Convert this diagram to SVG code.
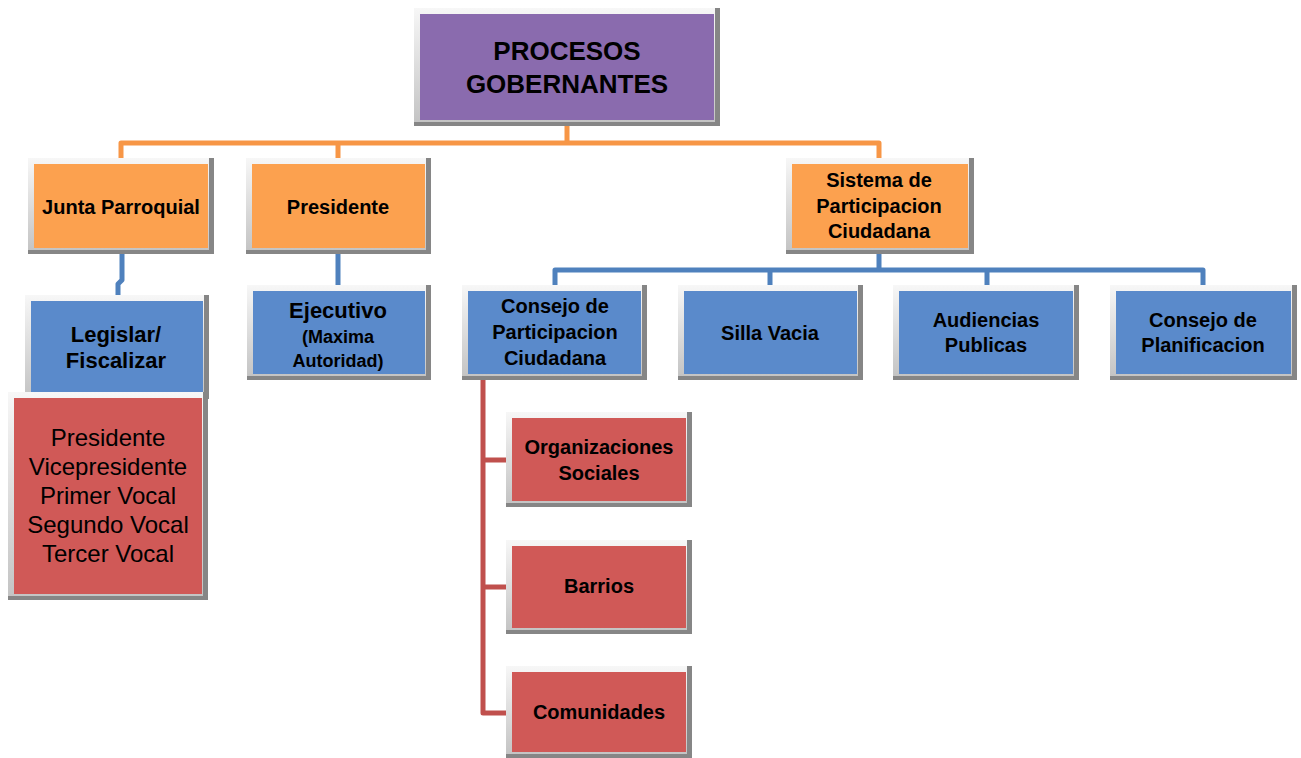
<svg xmlns="http://www.w3.org/2000/svg" width="1301" height="758" viewBox="0 0 1301 758">
<defs>
<linearGradient id="lg" x1="0" y1="0" x2="0" y2="1">
<stop offset="0" stop-color="#F7F7F7"/>
<stop offset="1" stop-color="#C4C4C4"/>
</linearGradient>
<style>
.f0{fill:#868686}
.f1{fill:url(#lg)}
.pu{fill:#8A6BAE}
.or{fill:#FCA14F}
.bl{fill:#5A8ACB}
.rd{fill:#D05957}
.t{font-family:"Liberation Sans",Arial,sans-serif;font-weight:bold;font-size:20px;fill:#000;text-anchor:middle}
.big{font-size:26px}
.m{font-size:22px}
.s{font-size:18px}
.r{font-weight:normal;font-size:24px}
.c{fill:none;stroke-width:5;stroke-linejoin:round}
.co{stroke:#F79646}
.cb{stroke:#4F81BD}
.cr{stroke:#C0504D}
</style>
</defs>
<rect width="1301" height="758" fill="#FFFFFF"/>
<g id="connectors">
<path class="c co" d="M567 126 V143 M121 158 V143 H879 V158 M338 143 V158"/>
<path class="c cb" d="M122 254 V280 L118 284 V295 M338 254 V285 M879 254 V270 M555 285 V270 H1203 V285 M770 270 V285 M987 270 V285"/>
<path class="c cr" d="M483 380 V713 H506 M483 460 H506 M483 587 H506"/>
</g>
<g id="procesos">
<rect class="f0" x="414" y="8" width="306" height="118"/><rect class="f1" x="414" y="8" width="301" height="114"/><rect class="pu" x="420" y="14" width="294" height="106"/>
<text class="t big" x="567" y="60">PROCESOS</text><text class="t big" x="567" y="93">GOBERNANTES</text>
</g>
<g id="junta">
<rect class="f0" x="28" y="158" width="186" height="96"/><rect class="f1" x="28" y="158" width="181" height="92"/><rect class="or" x="34" y="164" width="174" height="84"/>
<text class="t" x="121" y="214">Junta Parroquial</text>
</g>
<g id="presidente">
<rect class="f0" x="246" y="158" width="185" height="96"/><rect class="f1" x="246" y="158" width="180" height="92"/><rect class="or" x="252" y="164" width="173" height="84"/>
<text class="t" x="338" y="214">Presidente</text>
</g>
<g id="sistema">
<rect class="f0" x="786" y="158" width="188" height="96"/><rect class="f1" x="786" y="158" width="183" height="92"/><rect class="or" x="792" y="164" width="176" height="84"/>
<text class="t" x="879" y="187">Sistema de</text><text class="t" x="879" y="213">Participacion</text><text class="t" x="879" y="238">Ciudadana</text>
</g>
<g id="legislar">
<rect class="f0" x="25" y="295" width="184" height="104"/><rect class="f1" x="25" y="295" width="179" height="100"/><rect class="bl" x="31" y="301" width="172" height="92"/>
<text class="t m" x="116" y="342">Legislar/</text><text class="t m" x="116" y="368">Fiscalizar</text>
</g>
<g id="ejecutivo">
<rect class="f0" x="247" y="285" width="184" height="95"/><rect class="f1" x="247" y="285" width="179" height="91"/><rect class="bl" x="253" y="291" width="172" height="83"/>
<text class="t m" x="338" y="318">Ejecutivo</text><text class="t s" x="338" y="343">(Maxima</text><text class="t s" x="338" y="367">Autoridad)</text>
</g>
<g id="consejo">
<rect class="f0" x="462" y="285" width="185" height="95"/><rect class="f1" x="462" y="285" width="180" height="91"/><rect class="bl" x="468" y="291" width="173" height="83"/>
<text class="t" x="555" y="313">Consejo de</text><text class="t" x="555" y="339">Participacion</text><text class="t" x="555" y="365">Ciudadana</text>
</g>
<g id="silla">
<rect class="f0" x="678" y="285" width="185" height="95"/><rect class="f1" x="678" y="285" width="180" height="91"/><rect class="bl" x="684" y="291" width="173" height="83"/>
<text class="t" x="770" y="340">Silla Vacia</text>
</g>
<g id="audiencias">
<rect class="f0" x="893" y="285" width="186" height="95"/><rect class="f1" x="893" y="285" width="181" height="91"/><rect class="bl" x="899" y="291" width="174" height="83"/>
<text class="t" x="986" y="327">Audiencias</text><text class="t" x="986" y="352">Publicas</text>
</g>
<g id="planificacion">
<rect class="f0" x="1110" y="285" width="187" height="95"/><rect class="f1" x="1110" y="285" width="182" height="91"/><rect class="bl" x="1116" y="291" width="175" height="83"/>
<text class="t" x="1203" y="327">Consejo de</text><text class="t" x="1203" y="352">Planificacion</text>
</g>
<g id="miembros">
<rect class="f0" x="8" y="392" width="200" height="208"/><rect class="f1" x="8" y="392" width="195" height="204"/><rect class="rd" x="14" y="398" width="188" height="196"/>
<text class="t r" x="108" y="446">Presidente</text><text class="t r" x="108" y="475">Vicepresidente</text><text class="t r" x="108" y="504">Primer Vocal</text><text class="t r" x="108" y="533">Segundo Vocal</text><text class="t r" x="108" y="562">Tercer Vocal</text>
</g>
<g id="organizaciones">
<rect class="f0" x="506" y="412" width="186" height="95"/><rect class="f1" x="506" y="412" width="181" height="91"/><rect class="rd" x="512" y="418" width="174" height="83"/>
<text class="t" x="599" y="454">Organizaciones</text><text class="t" x="599" y="480">Sociales</text>
</g>
<g id="barrios">
<rect class="f0" x="506" y="540" width="186" height="94"/><rect class="f1" x="506" y="540" width="181" height="90"/><rect class="rd" x="512" y="546" width="174" height="82"/>
<text class="t" x="599" y="593">Barrios</text>
</g>
<g id="comunidades">
<rect class="f0" x="506" y="666" width="186" height="92"/><rect class="f1" x="506" y="666" width="181" height="88"/><rect class="rd" x="512" y="672" width="174" height="80"/>
<text class="t" x="599" y="719">Comunidades</text>
</g>
</svg>
